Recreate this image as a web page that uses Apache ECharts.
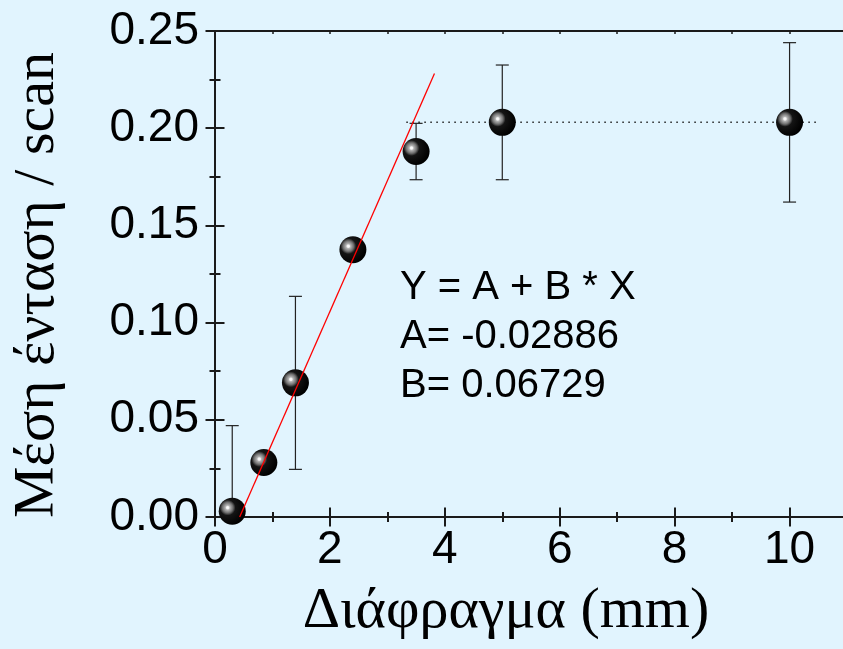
<!DOCTYPE html>
<html>
<head>
<meta charset="utf-8">
<script src="https://cdn.jsdelivr.net/npm/echarts@6/dist/echarts.min.js"></script>
<style>
  html, body { margin: 0; padding: 0; background: #e1f4fe; }
  #chart { width: 843px; height: 649px; }
</style>
</head>
<body>
<div id="chart"></div>
<script>
// Measured mean intensity per scan versus aperture size
const apertureMm = [0.3, 0.85, 1.4, 2.4, 3.5, 5, 10];
const meanIntensity = [0.003, 0.028, 0.069, 0.1375, 0.188, 0.203, 0.203];
const intensityError = [0.044, 0, 0.0445, 0, 0.0145, 0.0295, 0.041];

// Linear fit Y = A + B * X over the rising part
const fitA = -0.02886;
const fitB = 0.06729;
const fitXEnd = 3.82;

// Saturation level drawn as a dotted guide
const plateauLevel = 0.203;
const plateauXRange = [3.33, 10.52];

// Axis ranges and tick positions (the frame is cut by the right edge)
const xRange = [0, 10.93];
const yRange = [0, 0.25];
const xMajorTicks = [0, 2, 4, 6, 8, 10];
const xMinorTicks = [1, 3, 5, 7, 9];
const xTopTicks = [1, 2, 3, 4, 5, 6, 7, 8, 9, 10];
const yMajorTicks = [0, 0.05, 0.10, 0.15, 0.20, 0.25];
const yMinorTicks = [0.025, 0.075, 0.125, 0.175, 0.225];

const fitLines = ['Y = A + B * X', 'A= ' + fitA.toFixed(5), 'B= ' + fitB.toFixed(5)];

const AXIS_COLOR = '#1a1a1a';
const SANS = '"Liberation Sans", Arial, sans-serif';
const SERIF = '"Liberation Serif", "Times New Roman", serif';

const points = apertureMm.map((x, i) => [x, meanIntensity[i], intensityError[i]]);
const fitStart = -fitA / fitB;
const fitPoints = [[fitStart, fitA + fitB * fitStart], [fitXEnd, fitA + fitB * fitXEnd]];
const plateauPoints = plateauXRange.map(x => [x, plateauLevel]);

const chart = echarts.init(document.getElementById('chart'), null, { renderer: 'canvas' });

function hiddenAxisParts() {
  return { axisLabel: { show: false }, splitLine: { show: false }, axisLine: { show: false } };
}

const xBase = { type: 'value', min: xRange[0], max: xRange[1], gridIndex: 0 };
const yBase = { type: 'value', min: yRange[0], max: yRange[1], gridIndex: 0 };
const tickStyle = { color: AXIS_COLOR, width: 2 };

const option = {
  backgroundColor: '#e1f4fe',
  animation: false,
  grid: { left: 215, top: 31, right: 0, bottom: 132, containLabel: false },
  xAxis: [
    Object.assign({}, xBase, {
      position: 'bottom',
      axisLine: { show: true, lineStyle: { color: AXIS_COLOR, width: 2 } },
      axisTick: { show: false },
      axisLabel: { show: true, customValues: xMajorTicks, color: '#000', fontFamily: SANS, fontSize: 46, margin: 10 },
      splitLine: { show: false }
    }),
    // major ticks crossing the bottom axis
    Object.assign({}, xBase, hiddenAxisParts(), {
      position: 'bottom', offset: -9.5,
      axisTick: { show: true, customValues: xMajorTicks, inside: false, length: 19, lineStyle: tickStyle }
    }),
    // minor ticks crossing the bottom axis
    Object.assign({}, xBase, hiddenAxisParts(), {
      position: 'bottom', offset: -5,
      axisTick: { show: true, customValues: xMinorTicks, inside: false, length: 10, lineStyle: tickStyle }
    }),
    // top frame with small inward ticks
    Object.assign({}, xBase, {
      position: 'top',
      axisLine: { show: true, lineStyle: { color: AXIS_COLOR, width: 2 } },
      axisTick: { show: true, customValues: xTopTicks, inside: true, length: 3, lineStyle: { color: AXIS_COLOR, width: 1.5 } },
      axisLabel: { show: false }, splitLine: { show: false }
    })
  ],
  yAxis: [
    Object.assign({}, yBase, {
      position: 'left',
      axisLine: { show: true, lineStyle: { color: AXIS_COLOR, width: 2 } },
      axisTick: { show: false },
      axisLabel: { show: true, customValues: yMajorTicks, color: '#000', fontFamily: SANS, fontSize: 46, margin: 16,
        formatter: v => Number(v).toFixed(2) },
      splitLine: { show: false }
    }),
    Object.assign({}, yBase, hiddenAxisParts(), {
      position: 'left', offset: -9.5,
      axisTick: { show: true, customValues: yMajorTicks, inside: false, length: 19, lineStyle: tickStyle }
    }),
    Object.assign({}, yBase, hiddenAxisParts(), {
      position: 'left', offset: -5.5,
      axisTick: { show: true, customValues: yMinorTicks, inside: false, length: 11, lineStyle: tickStyle }
    })
  ],
  series: [
    {
      name: 'plateau',
      type: 'line',
      data: plateauPoints,
      symbol: 'none',
      lineStyle: { color: '#222', width: 1.5, type: [1.5, 4.5] },
      z: 1
    },
    {
      name: 'error',
      type: 'custom',
      data: points,
      clip: true,
      z: 2,
      renderItem: function (params, api) {
        const x = api.value(0), y = api.value(1), e = api.value(2);
        if (!e) return null;
        const top = api.coord([x, y + e]);
        const bot = api.coord([x, y - e]);
        const hw = 6.5;
        const style = { stroke: '#222', lineWidth: 1.2 };
        return {
          type: 'group',
          children: [
            { type: 'line', shape: { x1: top[0], y1: top[1], x2: bot[0], y2: bot[1] }, style: style },
            { type: 'line', shape: { x1: top[0] - hw, y1: top[1], x2: top[0] + hw, y2: top[1] }, style: style },
            { type: 'line', shape: { x1: bot[0] - hw, y1: bot[1], x2: bot[0] + hw, y2: bot[1] }, style: style }
          ]
        };
      }
    },
    {
      name: 'intensity',
      type: 'scatter',
      data: points,
      symbol: 'circle',
      symbolSize: 27,
      z: 3,
      itemStyle: {
        // shaded black sphere with a soft grey highlight
        color: {
          type: 'radial', x: 0.33, y: 0.37, r: 0.66,
          colorStops: [
            { offset: 0, color: '#ffffff' },
            { offset: 0.07, color: '#f2f2f2' },
            { offset: 0.13, color: '#b4b4b4' },
            { offset: 0.3, color: '#6e6e6e' },
            { offset: 0.44, color: '#141414' },
            { offset: 1, color: '#000000' }
          ]
        },
        opacity: 1
      }
    },
    {
      name: 'fit',
      type: 'line',
      data: fitPoints,
      symbol: 'none',
      lineStyle: { color: '#ff0000', width: 1.3 },
      z: 4
    }
  ],
  graphic: [
    ...fitLines.map((t, i) => ({
      type: 'text', x: 400, y: 288 + i * 49, z: 10,
      style: { text: t, font: '40px ' + SANS, fill: '#000', textAlign: 'left', textVerticalAlign: 'middle' }
    })),
    {
      type: 'text', x: 506, y: 612, z: 10,
      style: { text: 'Διάφραγμα (mm)', font: '58px ' + SERIF, fill: '#000', textAlign: 'center', textVerticalAlign: 'middle' }
    },
    {
      type: 'text', x: 38, y: 285, rotation: Math.PI / 2, z: 10,
      style: { text: 'Μέση ένταση / scan', font: '58px ' + SERIF, fill: '#000', textAlign: 'center', textVerticalAlign: 'middle' }
    }
  ]
};

chart.setOption(option);
</script>
</body>
</html>
